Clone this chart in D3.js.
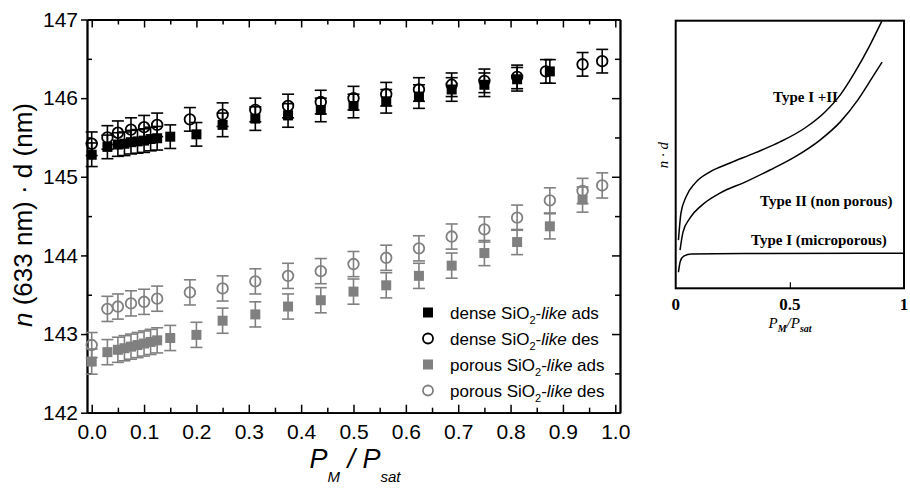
<!DOCTYPE html>
<html>
<head>
<meta charset="utf-8">
<script src="https://cdn.jsdelivr.net/npm/d3@7"></script>
<style>
body{margin:0;background:#fff}
svg{display:block}
text{font-family:"Liberation Sans",Arial,sans-serif;fill:#000}
</style>
</head>
<body>
<svg id="chart" width="910" height="490"></svg>
<script>
// main plot data
const denseAdsX=[0,0.03,0.05,0.0625,0.075,0.0875,0.1,0.1125,0.125,0.15,0.2,0.25,0.3125,0.375,0.4375,0.5,0.5625,0.625,0.6875,0.75,0.8125,0.875];
const denseAdsY=[145.28,145.38,145.41,145.42,145.44,145.45,145.46,145.48,145.49,145.51,145.54,145.66,145.74,145.78,145.85,145.90,145.96,146.02,146.11,146.17,146.24,146.34];
const denseDesX=[0,0.03,0.05,0.075,0.1,0.125,0.1875,0.25,0.3125,0.375,0.4375,0.5,0.5625,0.625,0.6875,0.75,0.8125,0.8675,0.9375,0.975];
const denseDesY=[145.42,145.50,145.56,145.60,145.63,145.66,145.73,145.79,145.85,145.90,145.95,146.00,146.05,146.11,146.17,146.22,146.27,146.34,146.43,146.47];
const porousAdsX=[0,0.03,0.05,0.0625,0.075,0.0875,0.1,0.1125,0.125,0.15,0.2,0.25,0.3125,0.375,0.4375,0.5,0.5625,0.625,0.6875,0.75,0.8125,0.875,0.9375];
const porousAdsY=[142.65,142.77,142.80,142.82,142.84,142.86,142.88,142.90,142.92,142.95,142.99,143.17,143.25,143.35,143.43,143.54,143.62,143.74,143.87,144.03,144.17,144.37,144.71];
const porousDesX=[0,0.03,0.05,0.075,0.1,0.125,0.1875,0.25,0.3125,0.375,0.4375,0.5,0.5625,0.625,0.6875,0.75,0.8125,0.875,0.9375,0.975];
const porousDesY=[142.86,143.32,143.35,143.39,143.41,143.45,143.53,143.58,143.67,143.74,143.80,143.89,143.97,144.09,144.24,144.33,144.48,144.70,144.82,144.89];
const errDense=0.15;
const errPorous=0.16;
const xTicks=[0,0.1,0.2,0.3,0.4,0.5,0.6,0.7,0.8,0.9,1.0];
const yTicks=[142,143,144,145,146,147];

// inset (schematic isotherms, normalised 0..1)
const typeIX=[0.012,0.02,0.035,0.07,0.3,1.0];
const typeIY=[0.06,0.10,0.12,0.128,0.13,0.131];
const typeIIX=[0.019,0.032,0.063,0.115,0.194,0.304,0.413,0.522,0.632,0.72,0.798,0.86,0.904];
const typeIIY=[0.143,0.21,0.263,0.311,0.356,0.397,0.442,0.491,0.554,0.621,0.704,0.786,0.845];
const typeI2X=[0.012,0.023,0.045,0.085,0.15,0.238,0.347,0.457,0.566,0.654,0.72,0.785,0.851,0.904];
const typeI2Y=[0.18,0.281,0.341,0.393,0.435,0.468,0.506,0.547,0.599,0.659,0.722,0.808,0.909,1.0];
const insetTicks=[0,0.5,1];

(function(){
    const svg=d3.select('#chart');
    const grey='#808080';
    const left=87, right=620, top=19.5, bottom=412.7;
    const x=d3.scaleLinear().domain([-0.009,1.009]).range([left,right]);
    const y=d3.scaleLinear().domain([142,147]).range([bottom,top]);

    function styleAxis(g){
        g.selectAll('.domain').attr('stroke-width',1.8);
        g.selectAll('.tick line').attr('stroke-width',1.5);
        g.selectAll('text').style('font-size','21px').style('font-family','"Liberation Sans",Arial,sans-serif');
    }
    const xMinor=d3.range(0.05,1,0.1);
    const yMinor=[142.5,143.5,144.5,145.5,146.5];

    // bottom
    svg.append('g').attr('transform','translate(0,'+bottom+')')
        .call(d3.axisBottom(x).tickValues(xTicks).tickFormat(d3.format('.1f')).tickSize(-8).tickSizeOuter(0).tickPadding(11))
        .call(styleAxis);
    svg.append('g').attr('transform','translate(0,'+bottom+')')
        .call(d3.axisBottom(x).tickValues(xMinor).tickFormat('').tickSize(-5).tickSizeOuter(0))
        .call(styleAxis);
    // top
    svg.append('g').attr('transform','translate(0,'+top+')')
        .call(d3.axisTop(x).tickValues(xTicks).tickFormat('').tickSize(-8).tickSizeOuter(0))
        .call(styleAxis);
    svg.append('g').attr('transform','translate(0,'+top+')')
        .call(d3.axisTop(x).tickValues(xMinor).tickFormat('').tickSize(-5).tickSizeOuter(0))
        .call(styleAxis);
    // left
    svg.append('g').attr('transform','translate('+left+',0)')
        .call(d3.axisLeft(y).tickValues(yTicks).tickFormat(d3.format('d')).tickSize(6).tickSizeOuter(0).tickPadding(3))
        .call(styleAxis);
    svg.append('g').attr('transform','translate('+left+',0)')
        .call(d3.axisLeft(y).tickValues(yMinor).tickFormat('').tickSize(-5).tickSizeOuter(0))
        .call(styleAxis);
    // right
    svg.append('g').attr('transform','translate('+right+',0)')
        .call(d3.axisRight(y).tickValues(yTicks).tickFormat('').tickSize(-8).tickSizeOuter(0))
        .call(styleAxis);
    svg.append('g').attr('transform','translate('+right+',0)')
        .call(d3.axisRight(y).tickValues(yMinor).tickFormat('').tickSize(-5).tickSizeOuter(0))
        .call(styleAxis);

    // axis titles
    const yt=svg.append('text').attr('transform','translate(32,215) rotate(-90)')
        .attr('text-anchor','middle').style('font-size','26px');
    yt.append('tspan').style('font-style','italic').text('n');
    yt.append('tspan').text(' (633 nm) \u00b7 d (nm)');

    const xt=svg.append('text').attr('x',355).attr('y',468)
        .attr('text-anchor','middle').style('font-size','27px').style('font-style','italic');
    xt.append('tspan').text('P');
    xt.append('tspan').attr('dy',14).style('font-size','15px').text('M');
    xt.append('tspan').attr('dy',-14).text(' / P');
    xt.append('tspan').attr('dy',14).style('font-size','15px').text('sat');

    // series
    const series=[
        {xs:denseAdsX,ys:denseAdsY,err:errDense,color:'#000',shape:'square'},
        {xs:denseDesX,ys:denseDesY,err:errDense,color:'#000',shape:'circle'},
        {xs:porousAdsX,ys:porousAdsY,err:errPorous,color:grey,shape:'square'},
        {xs:porousDesX,ys:porousDesY,err:errPorous,color:grey,shape:'circle'}
    ];
    series.forEach(function(s){
        let data=s.xs.map(function(v,i){return [v,s.ys[i]]});
        let g=svg.append('g');
        let eb=g.selectAll('g.eb').data(data).enter().append('g')
            .attr('stroke',s.color).attr('stroke-width',1.6);
        eb.append('line')
            .attr('x1',function(d){return x(d[0])}).attr('x2',function(d){return x(d[0])})
            .attr('y1',function(d){return y(d[1]-s.err)}).attr('y2',function(d){return y(d[1]+s.err)});
        eb.append('line')
            .attr('x1',function(d){return x(d[0])-6}).attr('x2',function(d){return x(d[0])+6})
            .attr('y1',function(d){return y(d[1]-s.err)}).attr('y2',function(d){return y(d[1]-s.err)});
        eb.append('line')
            .attr('x1',function(d){return x(d[0])-6}).attr('x2',function(d){return x(d[0])+6})
            .attr('y1',function(d){return y(d[1]+s.err)}).attr('y2',function(d){return y(d[1]+s.err)});
        if (s.shape==='square'){
            g.selectAll('rect').data(data).enter().append('rect')
                .attr('x',function(d){return x(d[0])-5}).attr('y',function(d){return y(d[1])-5})
                .attr('width',10).attr('height',10).attr('fill',s.color);
        } else {
            g.selectAll('circle').data(data).enter().append('circle')
                .attr('cx',function(d){return x(d[0])}).attr('cy',function(d){return y(d[1])})
                .attr('r',5.3).attr('fill','none').attr('stroke',s.color).attr('stroke-width',1.8);
        }
    });

    // legend
    const legend=[
        {name:'dense',kind:'ads',color:'#000',shape:'square'},
        {name:'dense',kind:'des',color:'#000',shape:'circle'},
        {name:'porous',kind:'ads',color:grey,shape:'square'},
        {name:'porous',kind:'des',color:grey,shape:'circle'}
    ];
    legend.forEach(function(l,i){
        let by=318.5+i*26;
        if (l.shape==='square'){
            svg.append('rect').attr('x',423).attr('y',by-11).attr('width',10).attr('height',10).attr('fill',l.color);
        } else {
            svg.append('circle').attr('cx',428).attr('cy',by-6).attr('r',5).attr('fill','none')
                .attr('stroke',l.color).attr('stroke-width',1.8);
        }
        let t=svg.append('text').attr('x',450).attr('y',by).style('font-size','17px');
        t.append('tspan').text(l.name+' SiO');
        t.append('tspan').attr('dy',5).style('font-size','11px').text('2');
        t.append('tspan').attr('dy',-5).text('-');
        t.append('tspan').style('font-style','italic').text('like');
        t.append('tspan').text(' '+l.kind);
    });

    // inset
    const serif='"Liberation Serif","Times New Roman",serif';
    const xi=d3.scaleLinear().domain([0,1]).range([675.7,904]);
    const yi=d3.scaleLinear().domain([0,1]).range([288.3,20.7]);
    svg.append('rect').attr('x',xi(0)).attr('y',yi(1)).attr('width',xi(1)-xi(0)).attr('height',yi(0)-yi(1))
        .attr('fill','none').attr('stroke','#000').attr('stroke-width',2);
    svg.append('g').attr('transform','translate(0,'+yi(0)+')')
        .call(d3.axisBottom(xi).tickValues([0.5]).tickFormat('').tickSize(-6).tickSizeOuter(0))
        .call(function(g){g.select('.domain').remove();g.selectAll('line').attr('stroke-width',1.2)});
    svg.append('g').selectAll('text').data(insetTicks).enter().append('text')
        .attr('x',function(d){return xi(d)}).attr('y',310).attr('text-anchor','middle')
        .style('font-family',serif).style('font-weight','bold').style('font-size','17px')
        .text(function(d){return d3.format('')(d)});
    const ix=svg.append('text').attr('x',790).attr('y',328).attr('text-anchor','middle')
        .style('font-family',serif).style('font-style','italic').style('font-size','15px');
    ix.append('tspan').text('P');
    ix.append('tspan').attr('dy',4).style('font-size','10px').style('font-weight','bold').text('M');
    ix.append('tspan').attr('dy',-4).text('/P');
    ix.append('tspan').attr('dy',4).style('font-size','10px').style('font-weight','bold').text('sat');
    svg.append('text').attr('transform','translate(668,155) rotate(-90)').attr('text-anchor','middle')
        .style('font-family',serif).style('font-style','italic').style('font-size','15px').text('n \u00b7 d');

    const line=d3.line().x(function(d){return xi(d[0])}).y(function(d){return yi(d[1])}).curve(d3.curveMonotoneX);
    [[typeIX,typeIY],[typeIIX,typeIIY],[typeI2X,typeI2Y]].forEach(function(c){
        let pts=c[0].map(function(v,i){return [v,c[1][i]]});
        svg.append('path').datum(pts).attr('d',line).attr('fill','none')
            .attr('stroke','#000').attr('stroke-width',1.5);
    });
    const insetLabels=[
        {text:'Type I +II',x:773,y:102},
        {text:'Type II (non porous)',x:760,y:206},
        {text:'Type I (microporous)',x:751,y:245}
    ];
    insetLabels.forEach(function(l){
        svg.append('text').attr('x',l.x).attr('y',l.y)
            .style('font-family',serif).style('font-weight','bold').style('font-size','15px').text(l.text);
    });
})();
</script>
</body>
</html>
